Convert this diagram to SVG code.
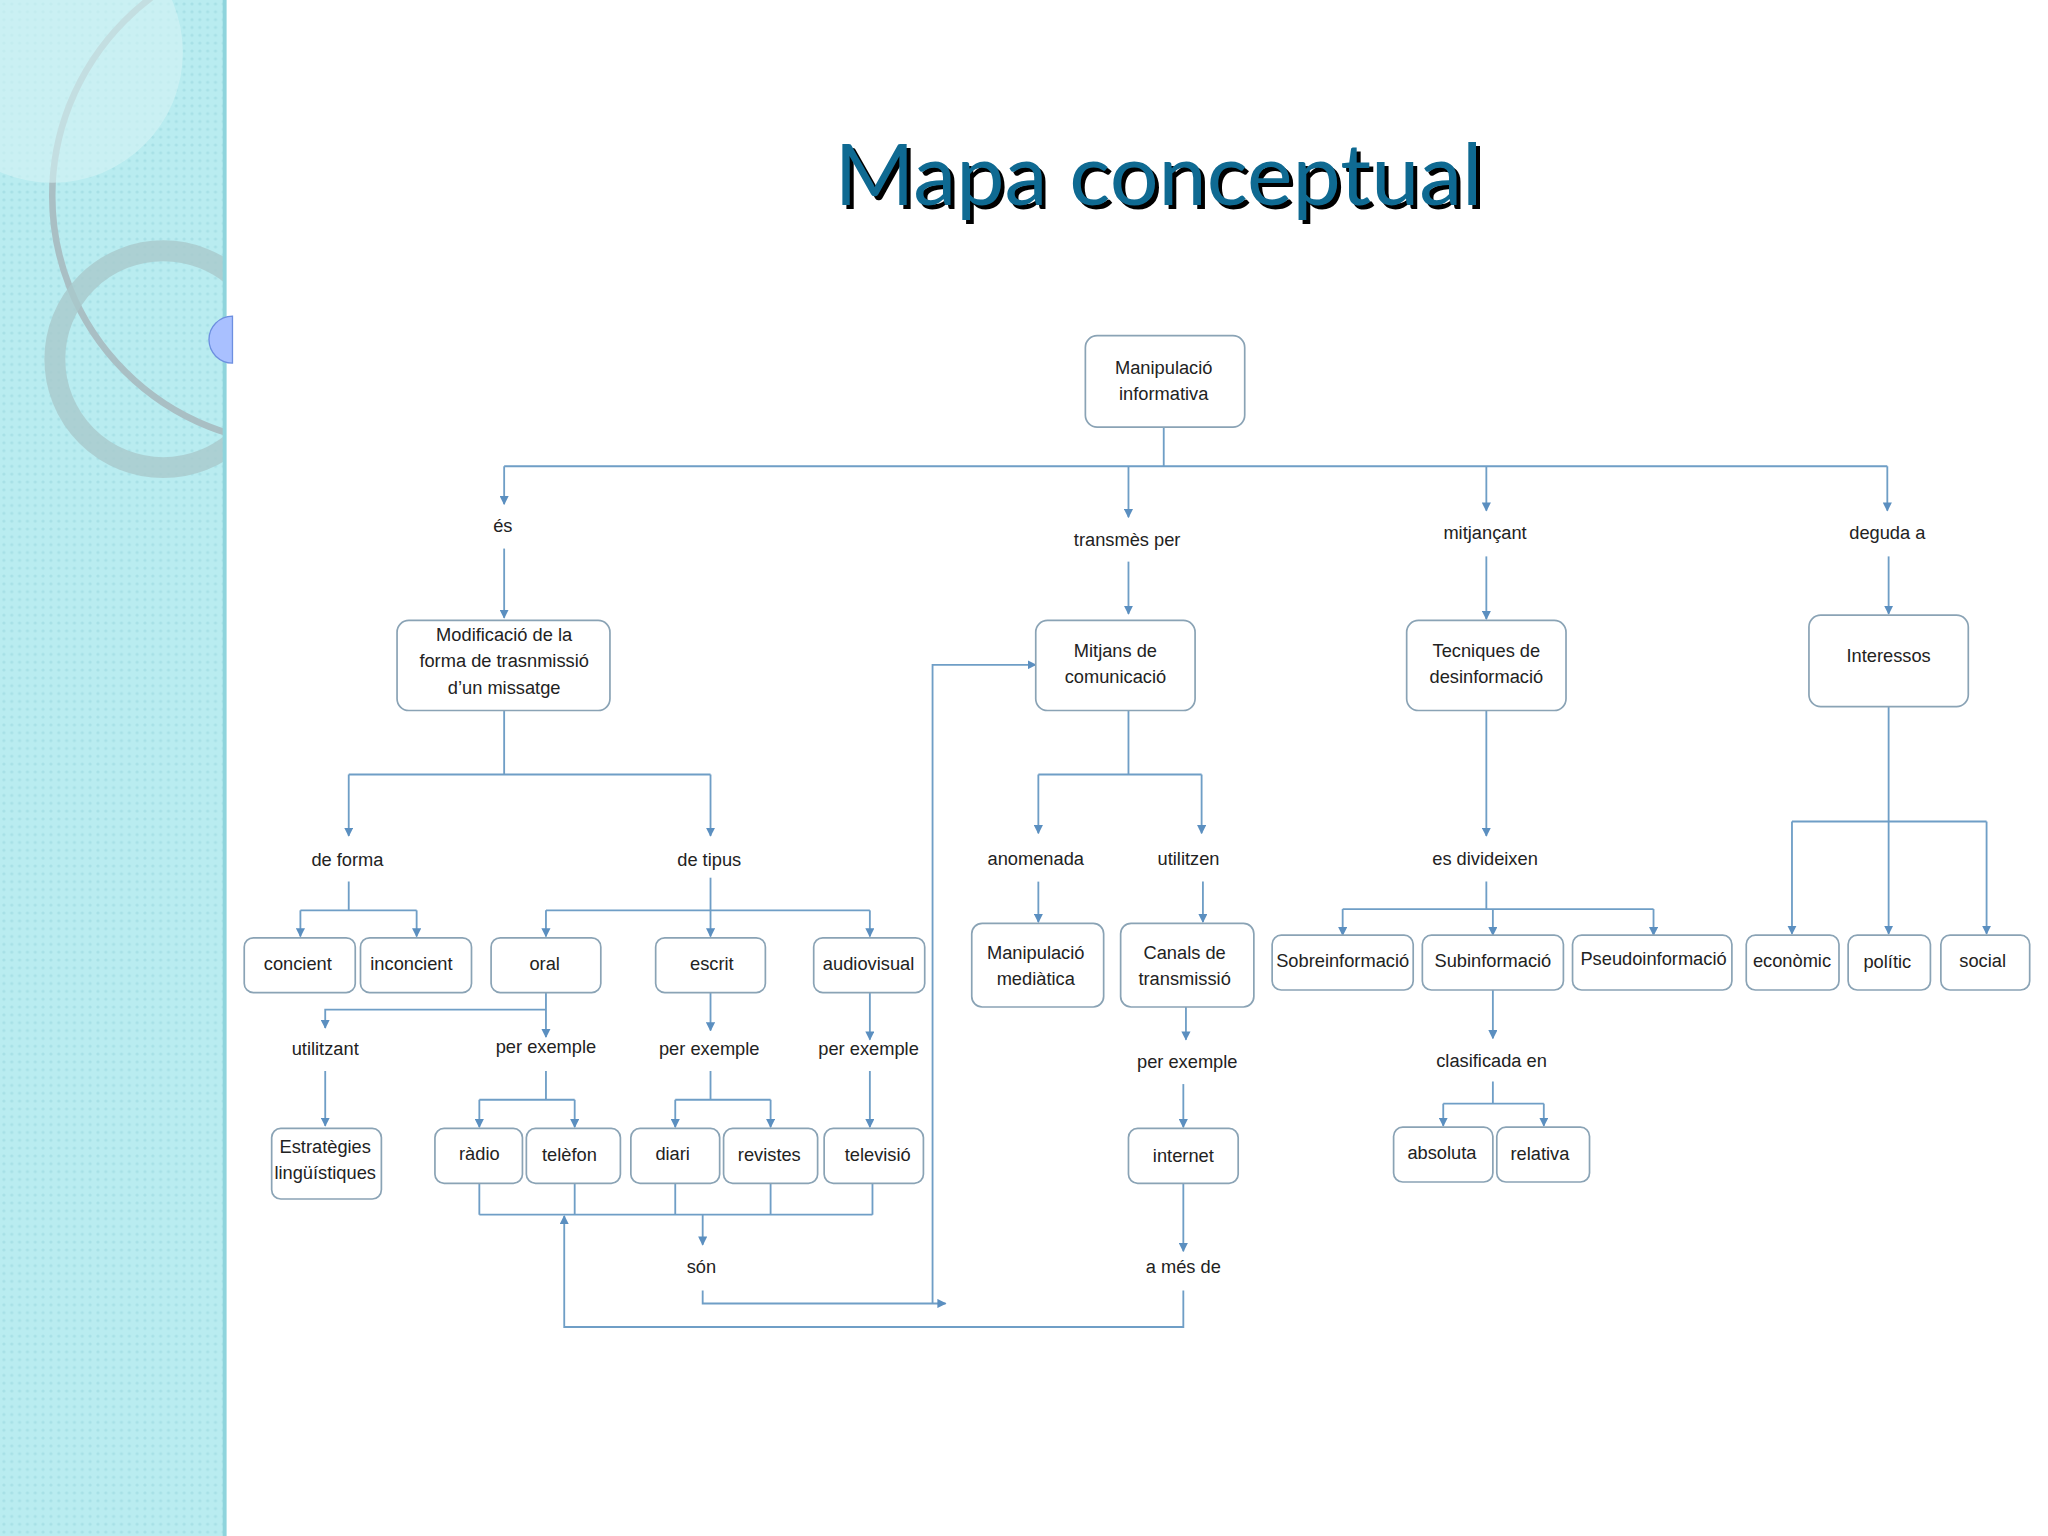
<svg xmlns="http://www.w3.org/2000/svg" width="2048" height="1536" viewBox="0 0 2048 1536">
<defs>
<pattern id="dots" width="6" height="6" patternUnits="userSpaceOnUse"><rect width="6" height="6" fill="#b9ecf0"/><circle cx="3" cy="3" r="1.2" fill="#a7e0e6"/></pattern>
<clipPath id="strip"><rect x="0" y="0" width="173" height="1176"/></clipPath>
<marker id="ar" viewBox="0 0 10 10" refX="9" refY="5" markerWidth="7" markerHeight="7" orient="auto" markerUnits="userSpaceOnUse"><path d="M0,0 L10,5 L0,10 z" fill="#5b8fc0"/></marker>
<style>
.bx{fill:#fff;stroke:#8aa3b5;stroke-width:1.3}
.t{font-family:"Liberation Sans Narrow","Liberation Sans",Arial,sans-serif;font-size:14px;fill:#222;text-anchor:middle}
.c{fill:none;stroke:#6f9ec6;stroke-width:1.4}
.a{marker-end:url(#ar)}
</style>
</defs>
<rect width="2048" height="1536" fill="#fff"/>
<g transform="scale(1.3061)">
<g id="background">
<rect x="0" y="0" width="173" height="1176" fill="url(#dots)"/>
<g clip-path="url(#strip)">
<circle cx="230" cy="150" r="190" fill="none" stroke="#a9bfc4" stroke-width="5"/>
<circle cx="125" cy="275" r="83" fill="none" stroke="#a9c9cc" stroke-width="16" opacity="0.8"/>
<circle cx="40" cy="40" r="100" fill="#d6f3f5" opacity="0.6"/>
</g>
<line x1="172" y1="0" x2="172" y2="1176" stroke="#8fd4dc" stroke-width="3"/>
<path d="M178,242 A18,18 0 0 0 178,278 Z" fill="#a9c0ff" stroke="#6d8fe0"/>
</g>
<g id="title">
<text x="890" y="160" font-family="'Gill Sans','Lato','Open Sans',sans-serif" font-size="66" fill="#000" text-anchor="middle">Mapa conceptual</text>
<text x="887" y="157" font-family="'Gill Sans','Lato','Open Sans',sans-serif" font-size="66" fill="#0f6a92" text-anchor="middle">Mapa conceptual</text>
</g>
<g id="connectors">
<path class="c" d="M891,327 V357 M386,357 H1445"/>
<path class="c a" d="M386,357 V386"/><path class="c a" d="M864,357 V396"/><path class="c a" d="M1138,357 V391"/><path class="c a" d="M1445,357 V391"/>
<path class="c a" d="M386,420 V473"/><path class="c a" d="M864,430 V470"/><path class="c a" d="M1138,426 V474"/><path class="c a" d="M1446,426 V470"/>
<path class="c" d="M386,544 V593 M267,593 H544"/><path class="c a" d="M267,593 V640"/><path class="c a" d="M544,593 V640"/>
<path class="c" d="M267,675 V697 M230,697 H319"/><path class="c a" d="M230,697 V717"/><path class="c a" d="M319,697 V717"/>
<path class="c" d="M418,697 H666"/><path class="c a" d="M544,672 V717"/><path class="c a" d="M418,697 V717"/><path class="c a" d="M666,697 V717"/>
<path class="c a" d="M418,760 V794"/><path class="c a" d="M418,773 H249 V787"/><path class="c a" d="M249,820 V862"/>
<path class="c a" d="M544,760 V789"/><path class="c a" d="M666,760 V796"/>
<path class="c" d="M418,820 V842 M367,842 H440"/><path class="c a" d="M367,842 V863"/><path class="c a" d="M440,842 V863"/>
<path class="c" d="M544,820 V842 M517,842 H590"/><path class="c a" d="M517,842 V863"/><path class="c a" d="M590,842 V863"/>
<path class="c a" d="M666,820 V863"/>
<path class="c" d="M367,906 V930 M440,906 V930 M517,906 V930 M590,906 V930 M668,906 V930 M367,930 H668"/>
<path class="c a" d="M538,930 V953"/>
<path class="c a" d="M538,988 V998 H724"/>
<path class="c a" d="M714,998 V509 H793"/>
<path class="c a" d="M906,988 V1016 H432 V931"/>
<path class="c" d="M864,544 V593 M795,593 H920"/><path class="c a" d="M795,593 V638"/><path class="c a" d="M920,593 V638"/>
<path class="c a" d="M795,675 V706"/><path class="c a" d="M921,675 V706"/>
<path class="c a" d="M908,771 V796"/><path class="c a" d="M906,830 V863"/><path class="c a" d="M906,906 V958"/>
<path class="c a" d="M1138,544 V640"/>
<path class="c" d="M1138,675 V696 M1028,696 H1266"/><path class="c a" d="M1028,696 V716"/><path class="c a" d="M1143,696 V716"/><path class="c a" d="M1266,696 V716"/>
<path class="c a" d="M1143,758 V795"/>
<path class="c" d="M1143,828 V845 M1105,845 H1182"/><path class="c a" d="M1105,845 V862"/><path class="c a" d="M1182,845 V862"/>
<path class="c" d="M1446,541 V629 M1372,629 H1521"/><path class="c a" d="M1372,629 V715"/><path class="c a" d="M1446,629 V715"/><path class="c a" d="M1521,629 V715"/>
</g>
<g id="labels">
<text class="t" x="385" y="407">és</text>
<text class="t" x="863" y="418">transmès per</text>
<text class="t" x="1137" y="413">mitjançant</text>
<text class="t" x="1445" y="413">deguda a</text>
<text class="t" x="266" y="663">de forma</text>
<text class="t" x="543" y="663">de tipus</text>
<text class="t" x="793" y="662">anomenada</text>
<text class="t" x="910" y="662">utilitzen</text>
<text class="t" x="1137" y="662">es divideixen</text>
<text class="t" x="249" y="808">utilitzant</text>
<text class="t" x="418" y="806">per exemple</text>
<text class="t" x="543" y="808">per exemple</text>
<text class="t" x="665" y="808">per exemple</text>
<text class="t" x="909" y="818">per exemple</text>
<text class="t" x="1142" y="817">clasificada en</text>
<text class="t" x="537" y="975">són</text>
<text class="t" x="906" y="975">a més de</text>
</g>
<g id="n-manip"><rect class="bx" x="831" y="257" width="122" height="70" rx="9"/><text class="t" x="891" y="286">Manipulació</text><text class="t" x="891" y="306">informativa</text></g>
<g id="n-modif"><rect class="bx" x="304" y="475" width="163" height="69" rx="9"/><text class="t" x="386" y="491">Modificació de la</text><text class="t" x="386" y="511">forma de trasnmissió</text><text class="t" x="386" y="531">d’un missatge</text></g>
<g id="n-mitjans"><rect class="bx" x="793" y="475" width="122" height="69" rx="9"/><text class="t" x="854" y="503">Mitjans de</text><text class="t" x="854" y="523">comunicació</text></g>
<g id="n-tecniques"><rect class="bx" x="1077" y="475" width="122" height="69" rx="9"/><text class="t" x="1138" y="503">Tecniques de</text><text class="t" x="1138" y="523">desinformació</text></g>
<g id="n-interessos"><rect class="bx" x="1385" y="471" width="122" height="70" rx="9"/><text class="t" x="1446" y="507">Interessos</text></g>
<g id="n-concient"><rect class="bx" x="187" y="718" width="85" height="42" rx="7"/><text class="t" x="228" y="743">concient</text></g>
<g id="n-inconcient"><rect class="bx" x="276" y="718" width="85" height="42" rx="7"/><text class="t" x="315" y="743">inconcient</text></g>
<g id="n-oral"><rect class="bx" x="376" y="718" width="84" height="42" rx="7"/><text class="t" x="417" y="743">oral</text></g>
<g id="n-escrit"><rect class="bx" x="502" y="718" width="84" height="42" rx="7"/><text class="t" x="545" y="743">escrit</text></g>
<g id="n-audiovisual"><rect class="bx" x="623" y="718" width="85" height="42" rx="7"/><text class="t" x="665" y="743">audiovisual</text></g>
<g id="n-estrategies"><rect class="bx" x="208" y="864" width="84" height="54" rx="7"/><text class="t" x="249" y="883">Estratègies</text><text class="t" x="249" y="903">lingüístiques</text></g>
<g id="n-radio"><rect class="bx" x="333" y="864" width="67" height="42" rx="7"/><text class="t" x="367" y="888">ràdio</text></g>
<g id="n-telefon"><rect class="bx" x="403" y="864" width="72" height="42" rx="7"/><text class="t" x="436" y="889">telèfon</text></g>
<g id="n-diari"><rect class="bx" x="483" y="864" width="68" height="42" rx="7"/><text class="t" x="515" y="888">diari</text></g>
<g id="n-revistes"><rect class="bx" x="554" y="864" width="72" height="42" rx="7"/><text class="t" x="589" y="889">revistes</text></g>
<g id="n-televisio"><rect class="bx" x="631" y="864" width="76" height="42" rx="7"/><text class="t" x="672" y="889">televisió</text></g>
<g id="n-mediatica"><rect class="bx" x="744" y="707" width="101" height="64" rx="8"/><text class="t" x="793" y="734">Manipulació</text><text class="t" x="793" y="754">mediàtica</text></g>
<g id="n-canals"><rect class="bx" x="858" y="707" width="102" height="64" rx="8"/><text class="t" x="907" y="734">Canals de</text><text class="t" x="907" y="754">transmissió</text></g>
<g id="n-internet"><rect class="bx" x="864" y="864" width="84" height="42" rx="7"/><text class="t" x="906" y="890">internet</text></g>
<g id="n-sobre"><rect class="bx" x="974" y="716" width="108" height="42" rx="7"/><text class="t" x="1028" y="740">Sobreinformació</text></g>
<g id="n-sub"><rect class="bx" x="1089" y="716" width="108" height="42" rx="7"/><text class="t" x="1143" y="740">Subinformació</text></g>
<g id="n-pseudo"><rect class="bx" x="1204" y="716" width="122" height="42" rx="7"/><text class="t" x="1266" y="739">Pseudoinformació</text></g>
<g id="n-absoluta"><rect class="bx" x="1067" y="863" width="76" height="42" rx="7"/><text class="t" x="1104" y="887">absoluta</text></g>
<g id="n-relativa"><rect class="bx" x="1146" y="863" width="71" height="42" rx="7"/><text class="t" x="1179" y="888">relativa</text></g>
<g id="n-economic"><rect class="bx" x="1337" y="716" width="71" height="42" rx="7"/><text class="t" x="1372" y="740">econòmic</text></g>
<g id="n-politic"><rect class="bx" x="1415" y="716" width="63" height="42" rx="7"/><text class="t" x="1445" y="741">polític</text></g>
<g id="n-social"><rect class="bx" x="1486" y="716" width="68" height="42" rx="7"/><text class="t" x="1518" y="740">social</text></g>
</g>
</svg>
